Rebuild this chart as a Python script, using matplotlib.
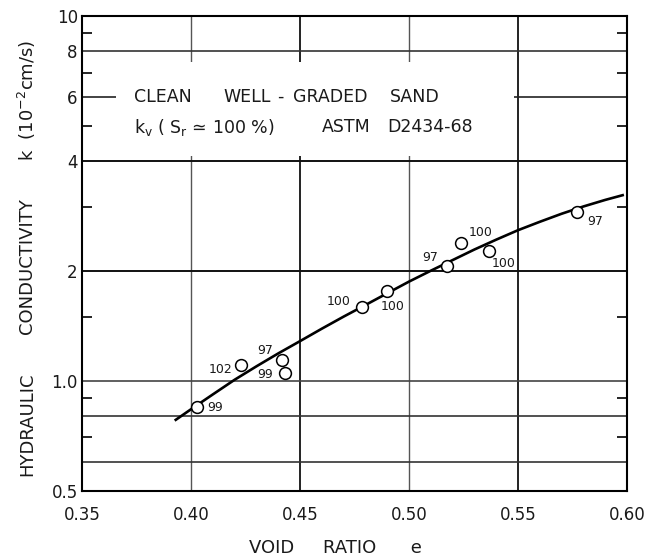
import numpy as np
import matplotlib
matplotlib.use("Agg")
import matplotlib.pyplot as plt
from matplotlib.patches import Rectangle
from matplotlib.ticker import FixedLocator, NullFormatter

plt.rcParams['font.family'] = ['DejaVu Sans']

# measured points: void ratio, permeability (1e-2 cm/s), degree of saturation label
e_pts = [0.4029, 0.4231, 0.4417, 0.4431, 0.4786, 0.4898, 0.5173, 0.5237, 0.5368, 0.5772]
k_pts = [0.846, 1.105, 1.141, 1.053, 1.591, 1.763, 2.07, 2.38, 2.27, 2.90]
sr_labels = ['99', '102', '97', '99', '100', '100', '97', '100', '100', '97']
# label offsets in points (dx, dy), y up
lab_off = [(13, 0), (-15, -3), (-12, 7), (-14, -1), (-17, 4),
           (4, -11), (-12, 6), (14, 8), (10, -9), (13, -7)]

# trend curve
e_fit = [0.393, 0.40, 0.41, 0.42, 0.43, 0.44, 0.45, 0.46, 0.47, 0.48, 0.49, 0.50,
         0.51, 0.52, 0.53, 0.54, 0.55, 0.56, 0.57, 0.58, 0.59, 0.598]
k_fit = [0.782, 0.836, 0.918, 1.007, 1.096, 1.189, 1.285, 1.390, 1.500, 1.614, 1.738,
         1.871, 2.004, 2.143, 2.291, 2.438, 2.588, 2.729, 2.871, 3.006, 3.133, 3.228]

x_ticks = [0.35, 0.40, 0.45, 0.50, 0.55, 0.60]
y_ticks = [0.5, 1.0, 2, 4, 6, 8, 10]
y_tick_labels = ['0.5', '1.0', '2', '4', '6', '8', '10']
y_minor = [0.7, 0.9, 1.5, 3, 5, 7, 9]

ink = '#1a1a1a'

fig = plt.figure(figsize=(6.53, 5.58), dpi=100)
ax = fig.add_axes([0.1256, 0.1206, 0.8346, 0.8507])
ax.set_yscale('log')
ax.set_xlim(0.35, 0.60)
ax.set_ylim(0.5, 10)

# grid
for xv, c, w in [(0.40, '#555555', 1.0), (0.45, '#111111', 1.3),
                 (0.50, '#555555', 1.0), (0.55, '#111111', 1.3)]:
    ax.axvline(xv, color=c, lw=w, zorder=1)
for yv, c, w in [(0.6, '#333333', 1.2), (0.8, '#333333', 1.2), (1.0, '#444444', 1.2),
                 (2, '#111111', 1.4), (4, '#111111', 1.4), (6, '#222222', 1.2),
                 (8, '#333333', 1.2)]:
    ax.axhline(yv, color=c, lw=w, zorder=1)

# blank area behind the caption
ax.add_patch(Rectangle((0.3655, 4.13), 0.1825, 3.35, facecolor='white',
                       edgecolor='none', zorder=1.5))

cap = dict(fontsize=12.5, color=ink, va='center', ha='left', zorder=3)
ax.text(0.3739, 6.0, 'CLEAN', **cap)
ax.text(0.4147, 6.0, 'WELL', **cap)
ax.text(0.4394, 6.0, '-', **cap)
ax.text(0.4468, 6.0, 'GRADED', **cap)
ax.text(0.4912, 6.0, 'SAND', **cap)
ax.text(0.3739, 4.95, r'k$_\mathregular{v}$ ( S$_\mathregular{r}$ ≃ 100 %)', **cap)
ax.text(0.4601, 4.95, 'ASTM', **cap)
ax.text(0.4899, 4.95, 'D2434-68', **cap)

ax.plot(e_fit, k_fit, color='black', lw=1.9, zorder=4)
ax.plot(e_pts, k_pts, 'o', ms=8.5, mfc='white', mec='black', mew=1.1, zorder=5)
for e, k, s, (dx, dy) in zip(e_pts, k_pts, sr_labels, lab_off):
    ax.annotate(s, (e, k), xytext=(dx, dy), textcoords='offset points',
                ha='center', va='center', fontsize=9, color=ink, zorder=6)

ax.set_xticks(x_ticks)
ax.set_xticklabels(['%.2f' % v for v in x_ticks])
ax.yaxis.set_major_locator(FixedLocator(y_ticks))
ax.set_yticklabels(y_tick_labels)
ax.yaxis.set_minor_locator(FixedLocator(y_minor))
ax.yaxis.set_minor_formatter(NullFormatter())
ax.tick_params(axis='both', which='major', length=0, labelsize=12, labelcolor=ink)
ax.tick_params(axis='x', which='major', pad=11)
ax.tick_params(axis='y', which='major', pad=3)
ax.tick_params(axis='y', which='minor', direction='in', length=7, width=1.2,
               left=True, right=True)

for sp in ax.spines.values():
    sp.set_linewidth(1.5)
    sp.set_color('black')

# axis titles
fig.text(335 / 653, 1 - 548 / 558, 'VOID     RATIO      e', fontsize=13, color=ink,
         ha='center', va='center')
ylab = dict(fontsize=13, color=ink, ha='center', va='center', rotation=90)
fig.text(27 / 653, 1 - 424 / 558, 'HYDRAULIC', **ylab)
fig.text(27 / 653, 1 - 266 / 558, 'CONDUCTIVITY', **ylab)
fig.text(27 / 653, 1 - 100 / 558, r'k  (10$^{-2}$cm/s)', **ylab)

fig.savefig('out.png', dpi=100)
